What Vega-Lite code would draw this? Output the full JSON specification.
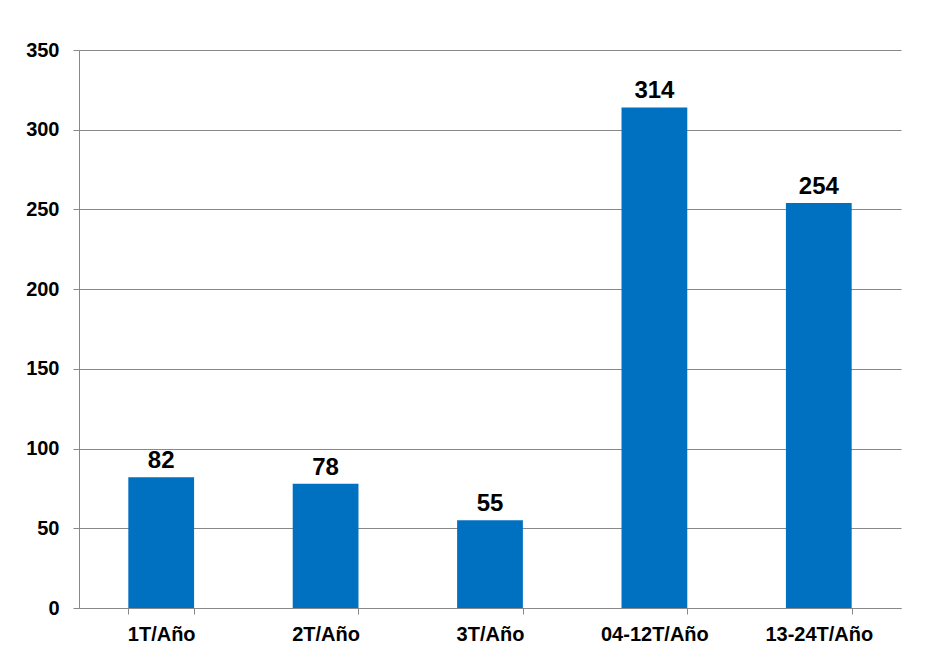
{
  "$schema": "https://vega.github.io/schema/vega-lite/v6.json",
  "width": 822,
  "height": 558,
  "autosize": {"type": "none"},
  "padding": {"left": 79, "top": 50, "right": 40, "bottom": 63},
  "background": "white",
  "config": {
    "view": {"stroke": null},
    "font": "Liberation Sans"
  },
  "data": {
    "values": [
      {"cat": "1T/Año", "v": 82},
      {"cat": "2T/Año", "v": 78},
      {"cat": "3T/Año", "v": 55},
      {"cat": "04-12T/Año", "v": 314},
      {"cat": "13-24T/Año", "v": 254}
    ]
  },
  "encoding": {
    "x": {
      "field": "cat", "type": "nominal", "sort": null, "title": null,
      "scale": {"paddingInner": 0.6, "paddingOuter": 0.3},
      "axis": {
        "labelAngle": 0, "labelFont": "Liberation Sans", "labelFontSize": 20, "labelFontWeight": "bold",
        "labelColor": "black", "labelPadding": 10, "tickBand": "extent", "tickSize": 6,
        "tickColor": "#888888", "domainColor": "#888888", "grid": false
      }
    },
    "y": {
      "field": "v", "type": "quantitative", "title": null,
      "scale": {"domain": [0, 350], "nice": false},
      "axis": {
        "values": [0, 50, 100, 150, 200, 250, 300, 350],
        "labelFont": "Liberation Sans", "labelFontSize": 20, "labelFontWeight": "bold",
        "labelColor": "black", "labelPadding": 14, "tickSize": 6,
        "tickColor": "#888888", "domainColor": "#888888",
        "gridColor": "#888888", "gridWidth": 1
      }
    }
  },
  "layer": [
    {"mark": {"type": "bar", "color": "#0070C0"}},
    {
      "mark": {"type": "text", "baseline": "alphabetic", "dy": -9, "fontSize": 24, "fontWeight": "bold", "color": "black", "font": "Liberation Sans"},
      "encoding": {"text": {"field": "v", "type": "quantitative"}}
    }
  ]
}
